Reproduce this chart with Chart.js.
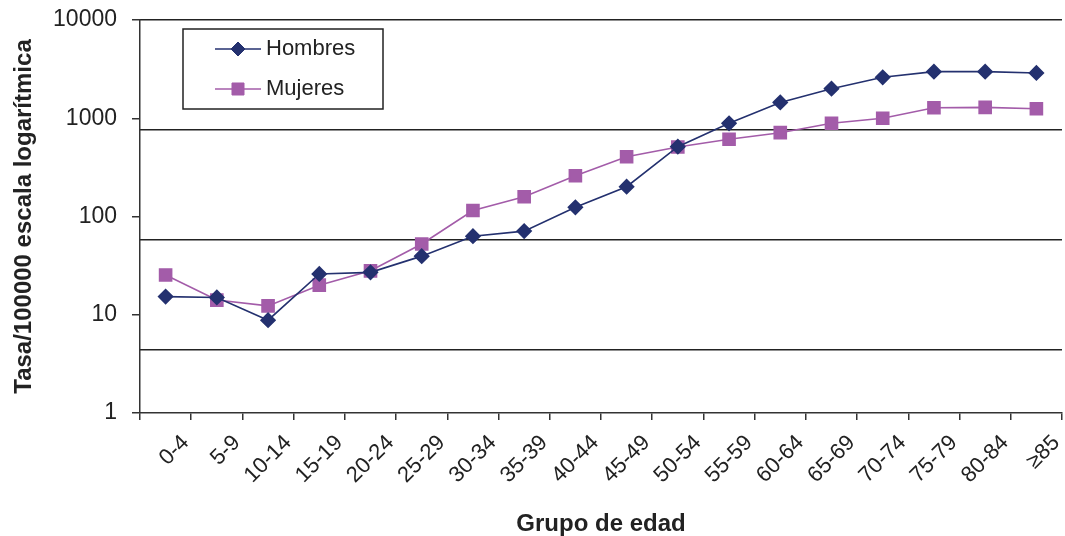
<!DOCTYPE html>
<html>
<head>
<meta charset="utf-8">
<script src="https://cdn.jsdelivr.net/npm/chart.js@4"></script>
<style>
  body { margin: 0; background: #fff; }
  #wrap { position: relative; width: 1065px; height: 536px; }
</style>
</head>
<body>
<div id="wrap"><canvas id="chart"></canvas></div>
<script>
const ageGroups = ['0-4', '5-9', '10-14', '15-19', '20-24', '25-29', '30-34', '35-39', '40-44',
                   '45-49', '50-54', '55-59', '60-64', '65-69', '70-74', '75-79', '80-84', '≥85'];
const hombres = [15.3, 15, 8.8, 26, 27, 39.5, 63, 71, 124, 201, 514, 889, 1450, 2000, 2610, 2980, 2980, 2890];
const mujeres = [25.4, 14.1, 12.3, 20, 28, 52.5, 115, 159, 260, 406, 510, 611, 713, 889, 1000, 1280, 1290, 1250];
const yTicks = [1, 10, 100, 1000, 10000];
const gridDecades = [10, 100, 1000, 10000];

const navy = '#24316f';
const purple = '#a35ca9';
const axisColor = '#333';
const textColor = '#222';
const fontFamily = '"Liberation Sans", Arial, sans-serif';

// legend drawn as a framed box inside the plot, like the original
const boxLegend = {
  id: 'boxLegend',
  afterDraw(chart) {
    const ctx = chart.ctx;
    ctx.save();
    ctx.fillStyle = '#fff';
    ctx.fillRect(183, 29, 200, 80);
    ctx.strokeStyle = '#222';
    ctx.lineWidth = 1.5;
    ctx.strokeRect(183, 29, 200, 80);
    chart.data.datasets.forEach((ds, i) => {
      const ly = 49 + i * 40;
      ctx.strokeStyle = ds.borderColor;
      ctx.lineWidth = ds.borderWidth;
      ctx.beginPath();
      ctx.moveTo(215, ly);
      ctx.lineTo(261, ly);
      ctx.stroke();
      ctx.fillStyle = ds.pointBackgroundColor;
      ctx.strokeStyle = ds.pointBorderColor;
      ctx.lineWidth = 1;
      Chart.helpers.drawPoint(ctx, { pointStyle: ds.pointStyle, radius: ds.pointRadius, borderWidth: 1 }, 238, ly);
      ctx.fillStyle = textColor;
      ctx.font = '22px ' + fontFamily;
      ctx.textBaseline = 'middle';
      ctx.fillText(ds.label, 266, ly);
    });
    ctx.restore();
  }
};

new Chart(document.getElementById('chart').getContext('2d'), {
  type: 'line',
  data: {
    labels: ageGroups,
    datasets: [{
      label: 'Hombres',
      data: hombres,
      yAxisID: 'y',
      borderColor: navy,
      borderWidth: 1.6,
      pointStyle: 'rectRot',
      pointRadius: 7,
      pointBackgroundColor: navy,
      pointBorderColor: navy,
      tension: 0
    }, {
      label: 'Mujeres',
      data: mujeres,
      yAxisID: 'y',
      borderColor: purple,
      borderWidth: 1.6,
      pointStyle: 'rect',
      pointRadius: 8.5,
      pointBackgroundColor: purple,
      pointBorderColor: purple,
      tension: 0
    }]
  },
  options: {
    responsive: true,
    maintainAspectRatio: false,
    animation: false,
    layout: { autoPadding: false, padding: { top: 20, right: 3, left: 0, bottom: 0 } },
    plugins: { legend: { display: false }, tooltip: { enabled: false } },
    scales: {
      x: {
        type: 'category',
        offset: true,
        grid: { offset: true, drawOnChartArea: false, drawTicks: true, tickLength: 7, color: axisColor, lineWidth: 1.5 },
        border: { color: axisColor, width: 1.5 },
        ticks: {
          autoSkip: false, minRotation: 45, maxRotation: 45,
          labelOffset: 20, padding: 10,
          color: textColor, font: { family: fontFamily, size: 22 }
        },
        title: {
          display: true, text: 'Grupo de edad', color: textColor, padding: 0,
          font: { family: fontFamily, size: 24, weight: 'bold', lineHeight: 1 }
        },
        afterFit(scale) { scale.height = 123; scale.paddingRight = 0; scale.paddingLeft = 0; }
      },
      // the original's horizontal rules sit on a shifted decade grid
      yGrid: {
        type: 'logarithmic',
        position: 'left',
        min: 2.67,
        max: 10000,
        grid: { drawTicks: false, color: '#222', lineWidth: 1.5 },
        border: { display: false },
        afterBuildTicks(scale) { scale.ticks = gridDecades.map(v => ({ value: v, major: true })); },
        ticks: { display: false },
        afterFit(scale) { scale.width = 0; scale.paddingTop = 0; scale.paddingBottom = 0; }
      },
      y: {
        type: 'logarithmic',
        position: 'left',
        min: 1,
        max: 10000,
        grid: { drawOnChartArea: false, drawTicks: true, tickLength: 8, color: axisColor, lineWidth: 1.5 },
        border: { color: axisColor, width: 1.5 },
        afterBuildTicks(scale) { scale.ticks = yTicks.map(v => ({ value: v, major: true })); },
        ticks: {
          padding: 15,
          color: textColor, font: { family: fontFamily, size: 23 },
          callback: v => String(v)
        },
        title: {
          display: true, text: 'Tasa/100000 escala logarítmica', color: textColor, padding: 10,
          font: { family: fontFamily, size: 24, weight: 'bold', lineHeight: 1.2 }
        },
        afterFit(scale) { scale.width = 140; scale.paddingTop = 0; scale.paddingBottom = 0; }
      }
    }
  },
  plugins: [boxLegend]
});
</script>
</body>
</html>
